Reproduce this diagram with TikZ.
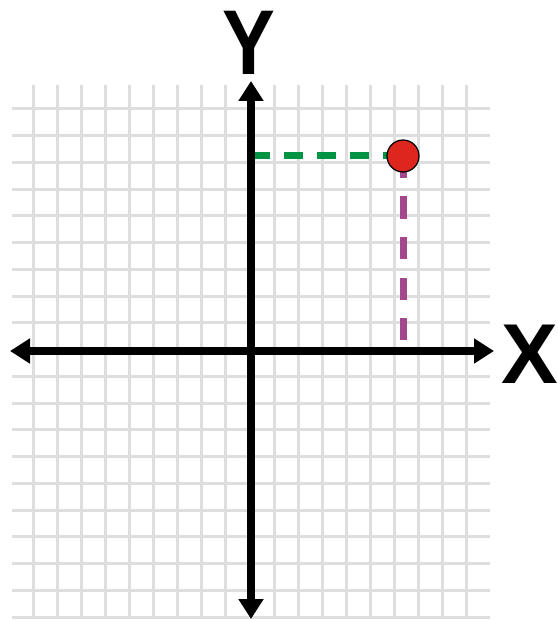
\documentclass[tikz,border=0pt]{standalone}
\usepackage{fontspec}
\setmainfont{Liberation Sans}
\usetikzlibrary{arrows.meta}
\definecolor{gridgray}{RGB}{222,222,222}
\definecolor{dashgreen}{RGB}{0,148,68}
\definecolor{dashpurple}{RGB}{163,72,140}
\definecolor{dotred}{RGB}{222,38,30}
\begin{document}
\begin{tikzpicture}[x=1pt,y=-1pt,
  axis/.style={line width=8pt,{Triangle[length=20pt,width=24pt]}-{Triangle[length=20pt,width=24pt]}},
  gridline/.style={gridgray,line width=3pt},
  label/.style={inner sep=0pt,anchor=base,font=\bfseries}]
\useasboundingbox (0,0) rectangle (557,620);

% grid
\foreach \k in {0,...,18}{
  \ifnum\k=9\else
    \draw[gridline] ({33+24.1*\k},85) -- ({33+24.1*\k},617);
  \fi}
\foreach \k in {0,...,19}{
  \ifnum\k=9\else
    \draw[gridline] (12,{109+26.74*\k}) -- (490,{109+26.74*\k});
  \fi}

\coordinate (xl) at (10,351);
\coordinate (xr) at (494,351);
\coordinate (yt) at (251,81);
\coordinate (yb) at (251,619);
\coordinate (py) at (251,156);
\coordinate (px) at (403,340);

% dashed guides
\draw[dashgreen,line width=7pt,dash pattern=on 19pt off 14pt] (py) -- (403,156);
\draw[dashpurple,line width=7pt,dash pattern=on 22pt off 18.5pt] (px) -- (403,156);

% axes
\draw[axis] (xl) -- (xr);
\draw[axis] (yb) -- (yt);

\node[circle,draw=black,line width=1.2pt,fill=dotred,minimum size=32pt,inner sep=0pt] (P) at (403,156) {};

\node[label] (ylab) at (249,75) {\fontsize{92}{92}\selectfont\scalebox{0.86}[1]{Y}};
\node[label] (xlab) at (530,383) {\fontsize{85}{85}\selectfont X};
\end{tikzpicture}
\end{document}
